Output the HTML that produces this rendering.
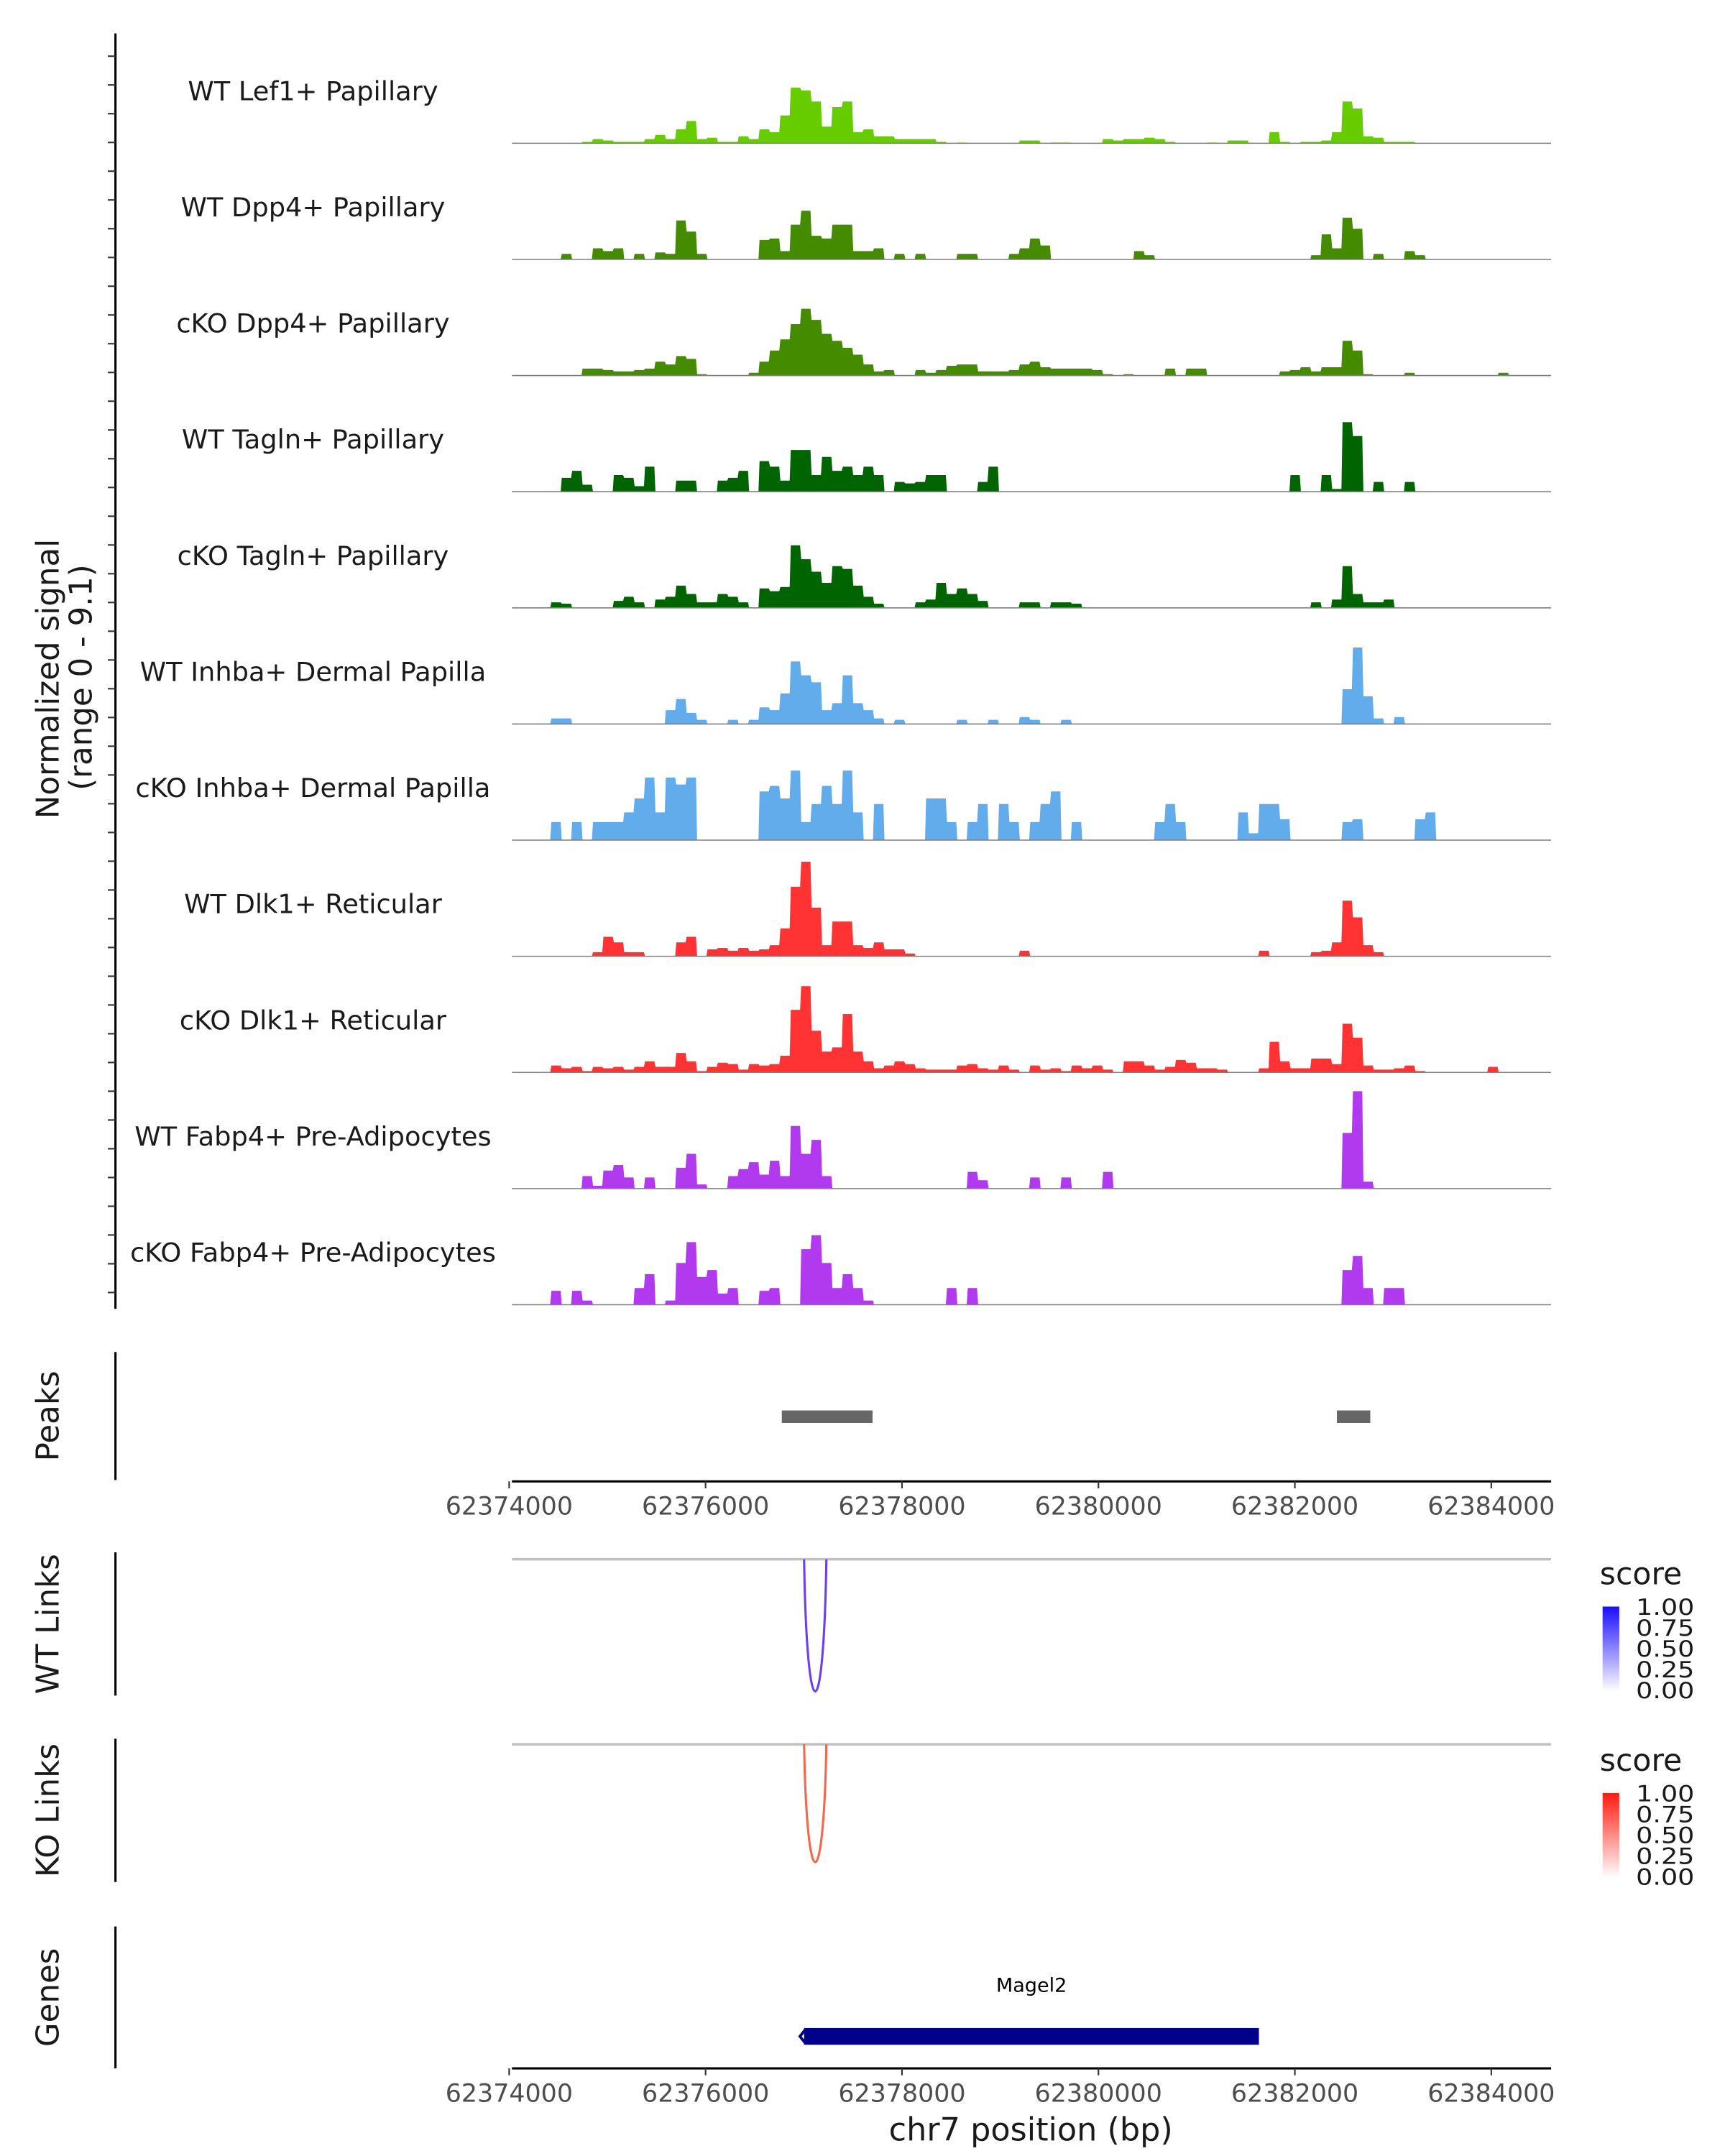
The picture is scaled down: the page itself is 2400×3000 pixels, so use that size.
<!DOCTYPE html>
<html><head><meta charset="utf-8"><style>
html,body{margin:0;padding:0;background:#fff;}
svg{display:block;font-family:"DejaVu Sans","Liberation Sans",sans-serif;}
</style></head><body>
<svg id="chart" width="2400" height="3000" viewBox="0 0 1240 1550" preserveAspectRatio="none" xmlns="http://www.w3.org/2000/svg">
<g id="tracks"></g>
<g id="deco"></g>
</svg>
<script>
// ---- data ----
const regionStart = 62374000;
const binSize = 106; // bp per coverage bin
const trackNames = ["WT Lef1+ Papillary","WT Dpp4+ Papillary","cKO Dpp4+ Papillary","WT Tagln+ Papillary","cKO Tagln+ Papillary","WT Inhba+ Dermal Papilla","cKO Inhba+ Dermal Papilla","WT Dlk1+ Reticular","cKO Dlk1+ Reticular","WT Fabp4+ Pre-Adipocytes","cKO Fabp4+ Pre-Adipocytes"];
const trackColors = ["#66cc00","#458b00","#458b00","#006400","#006400","#63acec","#63acec","#ff3333","#ff3333","#b23aee","#b23aee"];
// sparse [bin, signal] pairs
const covLef1WT = [[7,1],[8,3],[9,2],[10,1],[11,1],[12,1],[13,3],[14,6],[15,3],[16,10],[17,16],[18,3],[19,4],[20,1],[21,1],[22,5],[23,3],[24,10],[25,8],[26,20],[27,40],[28,38],[29,30],[30,12],[31,26],[32,30],[33,8],[34,10],[35,5],[36,5],[37,3],[38,3],[39,3],[40,3],[41,1],[43,0.5],[49,2],[50,2],[52,0.5],[53,0.5],[57,3],[58,2],[59,3],[60,3],[61,4],[62,3],[63,1],[67,0.5],[69,2],[70,2],[73,8],[74,1],[76,1],[77,1],[78,2],[79,8],[80,30],[81,25],[82,5],[83,4],[84,1],[85,1],[86,1]];
const covDpp4WT = [[5,4],[8,8],[9,6],[10,8],[12,4],[14,5],[15,4],[16,28],[17,20],[18,4],[24,14],[25,15],[26,6],[27,25],[28,35],[29,17],[30,15],[31,25],[32,25],[33,6],[34,6],[35,8],[37,4],[39,4],[43,4],[44,4],[48,4],[49,8],[50,15],[51,10],[60,6],[61,3],[77,3],[78,18],[79,8],[80,30],[81,22],[83,4],[86,6],[87,3]];
const covDpp4KO = [[7,5],[8,5],[9,4],[10,3],[11,3],[12,4],[13,5],[14,10],[15,8],[16,14],[17,12],[18,1],[23,2],[24,10],[25,18],[26,26],[27,37],[28,48],[29,40],[30,30],[31,25],[32,20],[33,15],[34,8],[35,3],[36,4],[39,4],[40,2],[41,4],[42,7],[43,8],[44,8],[45,3],[46,3],[47,3],[48,4],[49,8],[50,10],[51,6],[52,5],[53,5],[54,5],[55,5],[56,4],[57,1],[59,1],[63,5],[65,5],[66,5],[74,3],[75,4],[76,6],[77,3],[78,6],[79,6],[80,25],[81,18],[82,1],[86,2],[95,2]];
const covTaglnWT = [[5,10],[6,15],[7,5],[10,12],[11,10],[12,4],[13,18],[16,8],[17,8],[20,8],[21,10],[22,15],[24,22],[25,18],[26,8],[27,30],[28,30],[29,12],[30,25],[31,15],[32,18],[33,12],[34,18],[35,12],[37,7],[38,6],[39,7],[40,12],[41,12],[45,7],[46,18],[75,12],[78,12],[79,2],[80,50],[81,40],[83,7],[86,7]];
const covTaglnKO = [[4,4],[5,3],[10,5],[11,8],[12,4],[14,6],[15,8],[16,16],[17,10],[18,4],[19,4],[20,10],[21,8],[22,4],[24,14],[25,12],[26,15],[27,45],[28,35],[29,26],[30,18],[31,30],[32,28],[33,16],[34,8],[35,3],[39,4],[40,6],[41,18],[42,10],[43,14],[44,10],[45,5],[49,4],[50,4],[52,4],[53,4],[54,3],[77,4],[79,6],[80,30],[81,10],[82,4],[83,4],[84,6]];
const covInhbaWT = [[4,4],[5,4],[15,10],[16,18],[17,8],[18,3],[21,3],[23,3],[24,12],[25,10],[26,22],[27,45],[28,35],[29,30],[30,10],[31,15],[32,35],[33,15],[34,10],[35,4],[37,3],[43,3],[46,3],[49,5],[50,3],[53,3],[80,25],[81,55],[82,20],[83,4],[85,5]];
const covInhbaKO = [[4,13],[6,13],[8,13],[9,13],[10,13],[11,20],[12,30],[13,45],[14,20],[15,45],[16,40],[17,45],[24,35],[25,39],[26,30],[27,50],[28,13],[29,26],[30,39],[31,26],[32,50],[33,20],[35,26],[40,30],[41,30],[42,13],[44,13],[45,26],[47,26],[48,13],[50,13],[51,26],[52,35],[54,13],[62,13],[63,26],[64,13],[70,20],[71,5],[72,26],[73,26],[74,15],[80,13],[81,15],[87,15],[88,20]];
const covDlk1WT = [[8,3],[9,14],[10,10],[11,3],[12,3],[16,10],[17,14],[19,5],[20,6],[21,4],[22,6],[23,4],[24,5],[25,8],[26,20],[27,50],[28,68],[29,35],[30,8],[31,25],[32,25],[33,8],[34,6],[35,10],[36,5],[37,5],[38,2],[49,4],[72,4],[77,3],[78,4],[79,10],[80,40],[81,28],[82,8],[83,3]];
const covDlk1KO = [[4,5],[5,3],[6,4],[7,1],[8,4],[9,3],[10,4],[11,2],[12,4],[13,8],[14,4],[15,4],[16,14],[17,8],[18,1],[19,4],[20,7],[21,6],[22,2],[23,6],[24,5],[25,6],[26,12],[27,45],[28,62],[29,30],[30,15],[31,18],[32,42],[33,15],[34,8],[35,3],[36,5],[37,8],[38,6],[39,3],[40,2],[41,2],[42,2],[43,5],[44,6],[45,3],[46,2],[47,5],[48,2],[50,5],[51,2],[52,3],[53,1],[54,5],[55,3],[56,5],[57,2],[59,8],[60,8],[61,5],[62,2],[63,4],[64,9],[65,7],[66,3],[67,3],[68,2],[72,3],[73,22],[74,8],[75,3],[76,3],[77,10],[78,10],[79,6],[80,35],[81,25],[82,5],[83,2],[84,2],[85,3],[86,5],[87,1],[94,4]];
const covFabp4WT = [[7,9],[8,2],[9,13],[10,17],[11,8],[13,8],[16,15],[17,25],[18,3],[21,9],[22,14],[23,19],[24,10],[25,20],[26,9],[27,45],[28,25],[29,35],[30,9],[44,12],[45,6],[50,8],[53,8],[57,12],[80,40],[81,70],[82,5]];
const covFabp4KO = [[4,10],[6,10],[7,3],[12,12],[13,22],[15,3],[16,30],[17,45],[18,20],[19,25],[20,8],[21,12],[24,10],[25,12],[28,40],[29,50],[30,30],[31,12],[32,22],[33,12],[34,3],[42,12],[44,12],[80,25],[81,35],[82,12],[84,12],[85,12]];
const coverage = [covLef1WT,covDpp4WT,covDpp4KO,covTaglnWT,covTaglnKO,covInhbaWT,covInhbaKO,covDlk1WT,covDlk1KO,covFabp4WT,covFabp4KO];
const peakStarts = [62376776, 62382428];
const peakEnds = [62377700, 62382768];
const axisTicks = [62374000, 62376000, 62378000, 62380000, 62382000, 62384000];
const linkStarts = [62377003];
const linkEnds = [62377230];
const wtLinkScores = [0.85];
const koLinkScores = [0.75];
const legendTicks = ["1.00","0.75","0.50","0.25","0.00"];
const geneStart = 62377003, geneEnd = 62381634, geneName = "Magel2";

// ---- scales ----
const X0 = 366, PX_PER_BP = 70.6/1000, PLOT_L = 368, PLOT_R = 1115;
function xs(bp){ return X0 + (bp - regionStart)*PX_PER_BP; }
const BASE0 = 103, TRACK_STEP = 83.5;
function ys(i, v){ return BASE0 + i*TRACK_STEP - v; }
const NS = "http://www.w3.org/2000/svg";
function el(tag, attrs, parent, txt){
  const e = document.createElementNS(NS, tag);
  for (const k in attrs) e.setAttribute(k, attrs[k]);
  if (txt !== undefined) e.textContent = txt;
  parent.appendChild(e); return e;
}
const T = document.getElementById('tracks');
const D = document.getElementById('deco');

coverage.forEach((pairs, i) => {
  const base = BASE0 + i*TRACK_STEP;
  const dense = new Array(101).fill(0);
  pairs.forEach(p => { dense[p[0]] = p[1]; });
  let d = `M${PLOT_L},${base}`;
  for (let b = 0; b < dense.length; b++) {
    const xa = Math.max(PLOT_L, xs(regionStart + b*binSize)), xb = Math.min(PLOT_R, xs(regionStart + (b+1)*binSize));
    if (xa >= PLOT_R) break;
    const y = ys(i, dense[b]);
    d += ` L${(xa+0.4).toFixed(2)},${y.toFixed(2)} L${(xb-0.4).toFixed(2)},${y.toFixed(2)}`;
  }
  d += ` L${PLOT_R},${base} Z`;
  const a = el('path', {d: d, fill: trackColors[i]}, T);
  
  
  const bl = el('line', {x1: PLOT_L, x2: PLOT_R, y1: base, y2: base, stroke: '#7f7f7f', 'stroke-width': 0.8}, T);
  
  
  const lb = el('text', {x: 225, y: base - 31, 'text-anchor': 'middle', 'font-size': 19, fill: '#1a1a1a'}, T, trackNames[i]);
  
  
});

const ya = el('line', {x1: 83, x2: 83, y1: 24, y2: 941, stroke: '#000', 'stroke-width': 1.6}, D);


for (let y = 40.4; y < 942; y += 20.67) {
  const t = el('line', {x1: 77.5, x2: 83, y1: y, y2: y, stroke: '#333', 'stroke-width': 1.1}, D);
  
  
}
const yt1 = el('text', {transform: 'translate(42,488) rotate(-90)', 'text-anchor': 'middle', 'font-size': 22.5, fill: '#1a1a1a'}, D, 'Normalized signal');


const yt2 = el('text', {transform: 'translate(66,487) rotate(-90)', 'text-anchor': 'middle', 'font-size': 22.5, fill: '#1a1a1a'}, D, '(range 0 - 9.1)');



function panelAxis(y1, y2, label, nm){
  const l = el('line', {x1: 83, x2: 83, y1: y1, y2: y2, stroke: '#000', 'stroke-width': 1.6}, D);
  
  
  const t = el('text', {transform: `translate(42,${(y1+y2)/2}) rotate(-90)`, 'text-anchor': 'middle', 'font-size': 22.5, fill: '#1a1a1a'}, D, label);
  
  
}
panelAxis(972, 1064, 'Peaks', 'peaks');
panelAxis(1116, 1219, 'WT Links', 'wt-links');
panelAxis(1250, 1353, 'KO Links', 'ko-links');
panelAxis(1385, 1487, 'Genes', 'genes');

peakStarts.forEach((s, k) => {
  const r = el('rect', {x: xs(s), y: 1014, width: xs(peakEnds[k]) - xs(s), height: 9, fill: '#666666'}, D);
  
  
});

function xAxis(y, nm){
  const l = el('line', {x1: PLOT_L, x2: PLOT_R, y1: y, y2: y, stroke: '#000', 'stroke-width': 1.6}, D);
  
  
  axisTicks.forEach(t => {
    const x = xs(t);
    const tk = el('line', {x1: x, x2: x, y1: y, y2: y + 5, stroke: '#333', 'stroke-width': 1.1}, D);
    
    
    const tl = el('text', {x: x, y: y + 24, 'text-anchor': 'middle', 'font-size': 18, fill: '#4d4d4d'}, D, String(t));
    
    
  });
}
xAxis(1065, 'peaks-x-axis');
xAxis(1487, 'x-axis');
const xt = el('text', {x: 741, y: 1539, 'text-anchor': 'middle', 'font-size': 23, fill: '#1a1a1a'}, D, 'chr7 position (bp)');



function linkPanel(top, bottom, scores, colorHi, nm){
  const gl = el('line', {x1: PLOT_L, x2: PLOT_R, y1: top, y2: top, stroke: '#c0c0c0', 'stroke-width': 1.8}, D);
  
  
  linkStarts.forEach((s, k) => {
    const xa = xs(s), xb = xs(linkEnds[k]);
    const depth = (bottom - top) * scores[k] / 0.85;
    const c = top + depth / 0.75;
    const p = el('path', {d: `M${xa},${top} C${xa+2},${c} ${xb-2},${c} ${xb},${top}`, fill: 'none', stroke: colorHi, 'stroke-width': 1.6}, D);
    
    
  });
}
linkPanel(1121, 1216, wtLinkScores, '#6a3ff0', 'wt-link');
linkPanel(1254, 1350, koLinkScores, '#f5674a', 'ko-link');

function legend(top, col, gid, nm){
  const defs = el('defs', {}, D);
  const g = el('linearGradient', {id: gid, x1: 0, y1: 1, x2: 0, y2: 0}, defs);
  el('stop', {offset: 0, 'stop-color': '#ffffff'}, g);
  el('stop', {offset: 1, 'stop-color': col}, g);
  const st = el('text', {x: 1150, y: top - 16, 'font-size': 22, fill: '#1a1a1a'}, D, 'score');
  
  
  const r = el('rect', {x: 1152, y: top, width: 12, height: 61, fill: `url(#${gid})`}, D);
  
  
  legendTicks.forEach((lab, k) => {
    const y = top + 1 + k * 15;
    const tl = el('text', {x: 1176, y: y + 5, 'font-size': 16, fill: '#1a1a1a', textLength: 42, lengthAdjust: 'spacingAndGlyphs'}, D, lab);
    
    
  });
}
legend(1155, '#1a0dff', 'gw', 'wt');
legend(1289, '#ff1a0d', 'gk', 'ko');

const gn = el('text', {x: (xs(geneStart) + xs(geneEnd)) / 2, y: 1432, 'text-anchor': 'middle', 'font-size': 14, fill: '#000'}, D, geneName);


const gb = el('rect', {x: xs(geneStart), y: 1458, width: xs(geneEnd) - xs(geneStart), height: 12, fill: '#00008b'}, D);


const ga = el('path', {d: `M${xs(geneStart)+1},${1459} L${xs(geneStart)-3},${1464} L${xs(geneStart)+1},${1469}`, fill: 'none', stroke: '#00008b', 'stroke-width': 2}, D);


</script>
</body></html>
